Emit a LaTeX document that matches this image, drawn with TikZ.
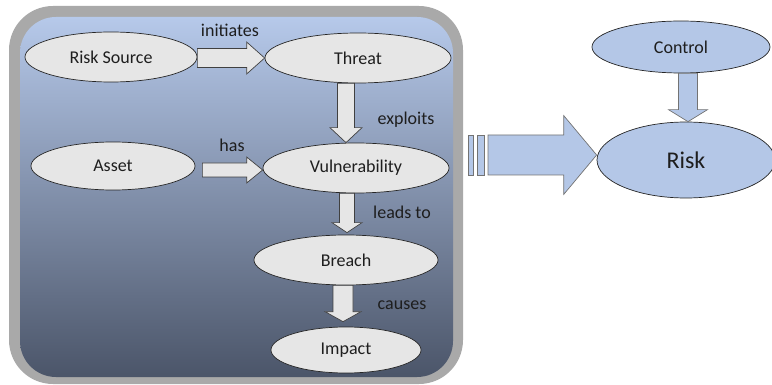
\documentclass[tikz,border=0pt]{standalone}
\usepackage{fontspec}
\setmainfont{Carlito}
\usetikzlibrary{shapes.geometric,calc}
\definecolor{frame}{HTML}{A9A9A9}
\definecolor{topblue}{HTML}{B6C9EA}
\definecolor{botblue}{HTML}{4B5569}
\definecolor{ellgray}{HTML}{E6E6E6}
\definecolor{lightblue}{HTML}{B4C7E7}
\definecolor{txt}{HTML}{1E1E1E}
\tikzset{
  ell/.style={ellipse, draw=black!85, line width=0.7pt, fill=ellgray, inner sep=0pt,
    font=\fontsize{18}{20}\selectfont, text=txt},
  bell/.style={ell, fill=lightblue},
  garrow/.style={draw=black!75, line width=0.7pt, fill=ellgray, line join=miter},
  barrow/.style={draw=black!55, line width=0.7pt, fill=lightblue},
  lbl/.style={font=\fontsize{18}{20}\selectfont, text=txt, inner sep=0pt},
}
% horizontal block arrow: start anchor, tip, shaft half, head half, head length, style
\newcommand\hblockarrow[6]{%
  \draw[#6] let \p1=(#1), \p2=(#2) in
    (\x1,\y2+#3) -- (\x2-#5,\y2+#3) -- (\x2-#5,\y2+#4) -- (\x2,\y2)
    -- (\x2-#5,\y2-#4) -- (\x2-#5,\y2-#3) -- (\x1,\y2-#3) -- cycle;}
% vertical (downward) block arrow
\newcommand\vblockarrow[6]{%
  \draw[#6] let \p1=(#1), \p2=(#2) in
    (\x2-#3,\y1) -- (\x2-#3,\y2+#5) -- (\x2-#4,\y2+#5) -- (\x2,\y2)
    -- (\x2+#4,\y2+#5) -- (\x2+#3,\y2+#5) -- (\x2+#3,\y1) -- cycle;}
\begin{document}
\begin{tikzpicture}[x=1pt,y=-1pt]
\useasboundingbox (0,0) rectangle (772,385);
% frame
\fill[frame, rounded corners=44pt] (9,6) rectangle (463,384);
\shade[top color=topblue, bottom color=botblue, rounded corners=36pt] (20,17) rectangle (453,377);
% nodes
\node[ell, minimum width=172pt, minimum height=50pt] (rs) at (111,57) {Risk Source};
\node[ell, minimum width=186pt, minimum height=50pt] (th) at (358,58) {Threat};
\node[ell, minimum width=164pt, minimum height=48pt] (as) at (113,166) {Asset};
\node[ell, minimum width=186pt, minimum height=50pt] (vu) at (356,168) {Vulnerability};
\node[ell, minimum width=184pt, minimum height=50pt] (br) at (346,260) {Breach};
\node[ell, minimum width=150pt, minimum height=46pt] (im) at (346,350) {Impact};
\node[bell, minimum width=178pt, minimum height=52pt] (co) at (681,47) {Control};
\node[bell, minimum width=178pt, minimum height=76pt, font=\fontsize{24}{26}\selectfont] (ri) at (686,160) {Risk};
% connectors
\hblockarrow{rs.east}{th.west}{9.5pt}{16pt}{18pt}{garrow}
\vblockarrow{[xshift=-12pt]th.south}{[xshift=-10pt]vu.north}{8.5pt}{16pt}{15pt}{garrow}
\hblockarrow{[xshift=7pt]as.east}{[yshift=-2pt]vu.west}{7pt}{13pt}{16pt}{garrow}
\vblockarrow{[xshift=-9pt]vu.south}{[xshift=1pt,yshift=2pt]br.north}{7.5pt}{15pt}{10pt}{garrow}
\vblockarrow{[xshift=-3pt]br.south}{[xshift=-3pt,yshift=5pt]im.north}{10pt}{18pt}{10pt}{garrow}
\vblockarrow{[xshift=7pt]co.south}{[xshift=2pt]ri.north}{9.5pt}{19.5pt}{12pt}{barrow}
% big arrow with stripes
\coordinate (bs) at (488,155);
\hblockarrow{bs}{[yshift=5pt]ri.west}{20pt}{39.5pt}{33pt}{barrow}
\draw[barrow] (468,135) rectangle (473,175);
\draw[barrow] (477,135) rectangle (484,175);
% labels
\node[lbl] (l1) at (230,30) {initiates};
\node[lbl] (l2) at (406,120) {exploits};
\node[lbl] (l3) at (232,145) {has};
\node[lbl] (l4) at (402,212) {leads to};
\node[lbl] (l5) at (402,305) {causes};
\end{tikzpicture}
\end{document}
